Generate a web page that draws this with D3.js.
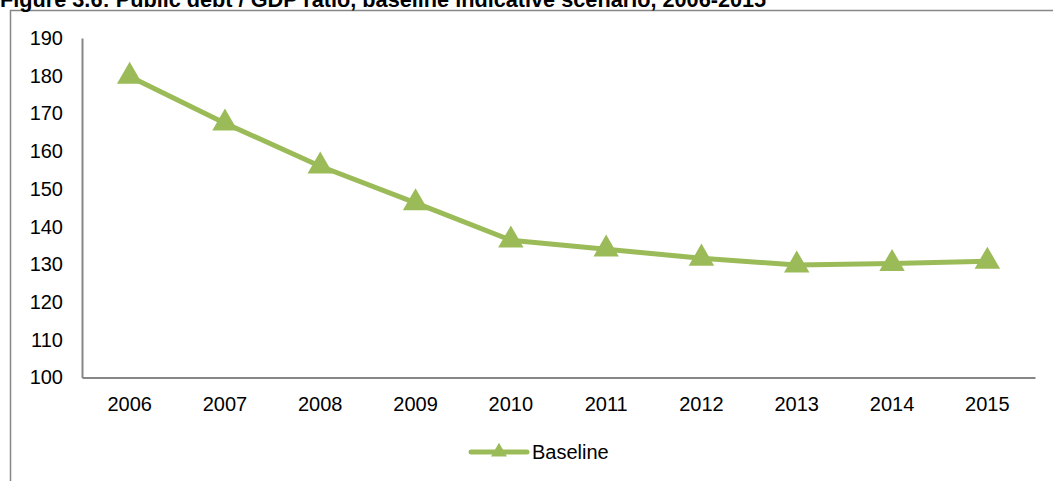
<!DOCTYPE html>
<html>
<head>
<meta charset="utf-8">
<script src="https://cdn.jsdelivr.net/npm/d3@7/dist/d3.min.js"></script>
<style>
  html, body { margin: 0; padding: 0; background: #fff; overflow: hidden; }
  svg { display: block; }
</style>
</head>
<body>
<svg id="chart" width="1053" height="481"></svg>
<script>
// Public debt / GDP ratio (% of GDP), baseline indicative scenario
const years = ["2006", "2007", "2008", "2009", "2010", "2011", "2012", "2013", "2014", "2015"];
const baseline = [179.8, 167.4, 156.0, 146.3, 136.4, 134.0, 131.6, 129.8, 130.2, 130.8];
const yTicks = [100, 110, 120, 130, 140, 150, 160, 170, 180, 190];
const seriesName = "Baseline";
const title = "Figure 3.6: Public debt / GDP ratio, baseline indicative scenario, 2006-2015";

const W = 1053, H = 481;
const green = "#9bbb59";
const axisGrey = "#868686";
const font = "'Liberation Sans', Arial, sans-serif";
const labelSize = 20;

const svg = d3.select("#chart");

// outer chart frame (runs off the right and bottom edges)
svg.append("rect")
  .attr("x", 10.5).attr("y", 10.5)
  .attr("width", W + 20).attr("height", H + 20)
  .attr("fill", "none").attr("stroke", axisGrey).attr("stroke-width", 1.5);

// title, sitting right at the top edge
svg.append("text")
  .attr("x", 0).attr("y", 7)
  .attr("font-family", font).attr("font-weight", "bold")
  .attr("font-size", 21.7).attr("fill", "#000")
  .text(title);

const plot = { left: 82, right: 1035, top: 38, bottom: 377.5 };

const x = d3.scaleBand().domain(years).range([plot.left, plot.right]);
const y = d3.scaleLinear().domain([100, 190]).range([plot.bottom, plot.top]);

// y axis
const yAxis = svg.append("g")
  .attr("transform", `translate(${plot.left},0)`)
  .call(d3.axisLeft(y).tickValues(yTicks).tickSize(0).tickPadding(19));
yAxis.select(".domain").attr("stroke", axisGrey).attr("stroke-width", 2);
yAxis.selectAll("text").attr("font-family", font).attr("font-size", labelSize).attr("fill", "#000");

// x axis
const xAxis = svg.append("g")
  .attr("transform", `translate(0,${plot.bottom})`)
  .call(d3.axisBottom(x).tickSize(0).tickPadding(19));
xAxis.select(".domain").attr("stroke", axisGrey).attr("stroke-width", 2);
xAxis.selectAll("text").attr("font-family", font).attr("font-size", labelSize).attr("fill", "#000");

const cx = d => x(d) + x.bandwidth() / 2;

// series line
const line = d3.line()
  .x((d, i) => cx(years[i]))
  .y(d => y(d));

svg.append("path")
  .datum(baseline)
  .attr("d", line)
  .attr("fill", "none")
  .attr("stroke", green)
  .attr("stroke-width", 5)
  .attr("stroke-linejoin", "round");

// triangle markers
const tri = d3.symbol().type(d3.symbolTriangle).size(280);
svg.append("g").selectAll("path")
  .data(baseline)
  .join("path")
  .attr("d", tri)
  .attr("transform", (d, i) => `translate(${cx(years[i])},${y(d)})`)
  .attr("fill", green);

// legend
const lg = svg.append("g").attr("transform", "translate(471,452)");
lg.append("line")
  .attr("x1", 0).attr("x2", 56).attr("y1", 0).attr("y2", 0)
  .attr("stroke", green).attr("stroke-width", 5).attr("stroke-linecap", "round");
lg.append("path")
  .attr("d", d3.symbol().type(d3.symbolTriangle).size(110))
  .attr("transform", "translate(28,0)")
  .attr("fill", green);
lg.append("text")
  .attr("x", 61).attr("y", 0).attr("dy", "0.35em")
  .attr("font-family", font).attr("font-size", labelSize).attr("fill", "#000")
  .text(seriesName);
</script>
</body>
</html>
